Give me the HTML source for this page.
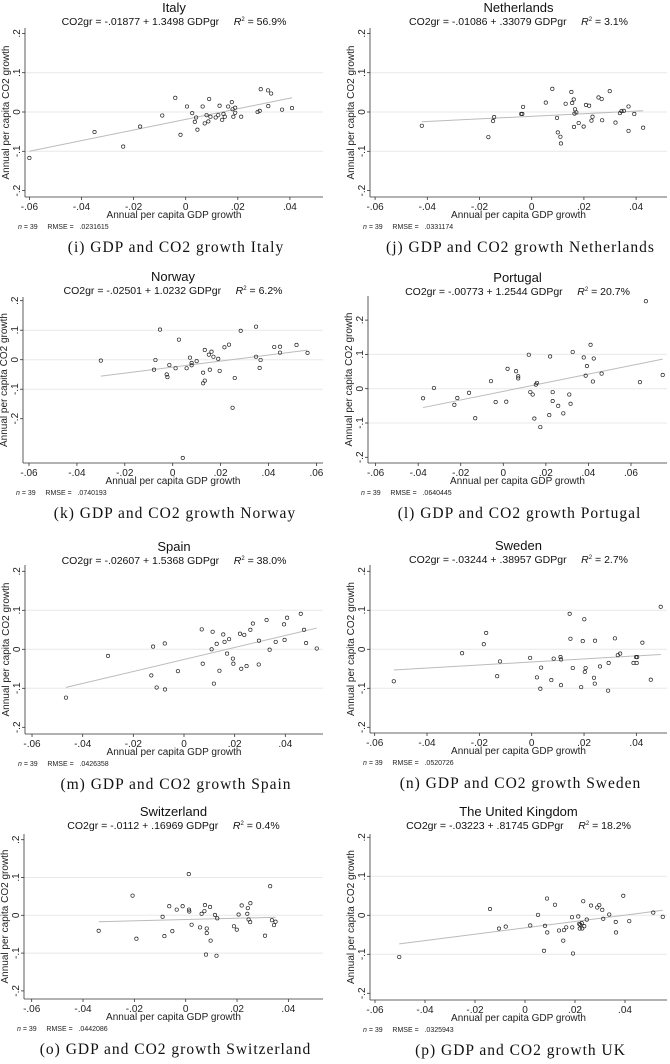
<!DOCTYPE html>
<html><head><meta charset="utf-8"><style>
body{margin:0;background:#fff;}
svg{display:block;font-family:"Liberation Sans",sans-serif;}
svg text{white-space:pre;}
.cap{font-family:"Liberation Serif",serif;font-size:15.5px;letter-spacing:1px;fill:#111;}
</style></head><body>
<svg id="fig" width="670" height="1064" viewBox="0 0 670 1064"></svg>
<script>
// ---- data (x = GDP growth, y = CO2 growth) ----
const countries = ["Italy","Netherlands","Norway","Portugal","Spain","Sweden","Switzerland","The United Kingdom"];
const captions = ["(i) GDP and CO2 growth Italy","(j) GDP and CO2 growth Netherlands","(k) GDP and CO2 growth Norway","(l) GDP and CO2 growth Portugal","(m) GDP and CO2 growth Spain","(n) GDP and CO2 growth Sweden","(o) GDP and CO2 growth Switzerland","(p) GDP and CO2 growth UK"];
const equations = ["CO2gr = -.01877 + 1.3498 GDPgr","CO2gr = -.01086 + .33079 GDPgr","CO2gr = -.02501 + 1.0232 GDPgr","CO2gr = -.00773 + 1.2544 GDPgr","CO2gr = -.02607 + 1.5368 GDPgr","CO2gr = -.03244 + .38957 GDPgr","CO2gr = -.0112 + .16969 GDPgr","CO2gr = -.03223 + .81745 GDPgr"];
const r2Labels = ["56.9%","3.1%","6.2%","20.7%","38.0%","2.7%","0.4%","18.2%"];
const rmseLabels = [".0231615",".0331174",".0740193",".0640445",".0426358",".0520726",".0442086",".0325943"];
const intercepts = [-.01877,-.01086,-.02501,-.00773,-.02607,-.03244,-.0112,-.03223];
const slopes = [1.3498,.33079,1.0232,1.2544,1.5368,.38957,.16969,.81745];
const xTicksShort = [-.06,-.04,-.02,0,.02,.04];
const xTickLabelsShort = ["-.06","-.04","-.02","0",".02",".04"];
const xTicksLong = [-.06,-.04,-.02,0,.02,.04,.06];
const xTickLabelsLong = ["-.06","-.04","-.02","0",".02",".04",".06"];
const yTicks = [.2,.1,0,-.1,-.2];
const yTickLabels = [".2",".1","0","-.1","-.2"];
const gridTicks = [.1,0,-.1];

const italyX = [-.06,-.035,-.024,-.0175,-.009,-.004,-.002,.0005,.0025,.0035,.004,.0045,.0065,.0073,.008,.0087,.009,.0095,.0115,.0125,.013,.014,.0145,.015,.0163,.0177,.018,.0183,.019,.019,.0213,.0276,.0284,.0288,.0316,.0317,.0328,.037,.0408];
const italyY = [-.117,-.051,-.088,-.037,-.009,.036,-.058,.014,-.003,-.025,-.014,-.045,.014,-.029,-.008,-.024,.033,-.012,-.014,-.008,.016,-.02,-.005,-.012,.014,.025,.007,-.012,.011,-.002,-.012,0,.003,.058,.055,.015,.047,.006,.01];
const nethX = [-.0421,-.0166,-.0148,-.0144,-.004,-.0036,-.0033,.0054,.0079,.0097,.01,.011,.0112,.013,.0152,.0155,.0161,.0162,.0164,.0166,.0171,.018,.0199,.0208,.022,.0229,.0233,.0256,.0268,.027,.0299,.0321,.0338,.0344,.0353,.0371,.0371,.0393,.0427];
const nethY = [-.035,-.064,-.023,-.013,-.005,-.005,.013,.024,.059,-.015,-.052,-.063,-.08,.021,.051,.023,.032,-.038,-.004,.007,-.001,-.028,-.037,.018,.016,-.022,-.012,.037,.033,-.021,.053,-.027,-.003,.002,.003,.014,-.048,-.005,-.04];
const norX = [-.03,-.0072,-.0078,-.0053,-.0025,-.0022,-.0014,.0012,.0026,.0058,.0072,.0079,.0079,.01,.0127,.0127,.0134,.0134,.0151,.0155,.0162,.017,.019,.0196,.0216,.0235,.025,.0259,.0284,.0348,.0348,.0363,.0367,.0424,.0448,.0448,.0517,.0563,.0042];
const norY = [-.003,-.001,-.034,.102,-.05,-.059,-.018,-.029,.068,-.029,.007,-.011,-.019,-.005,-.044,-.08,.033,-.071,.017,-.034,.027,.01,.003,-.038,.042,.051,-.163,-.062,.098,.112,.01,-.028,-.001,.043,.044,.024,.05,.023,-.333];
const porX = [-.0377,-.0326,-.023,-.0216,-.0161,-.0132,-.0058,-.0036,.0014,.002,.006,.007,.007,.012,.0127,.0138,.0146,.0153,.0158,.0174,.0216,.022,.0232,.0232,.0258,.0282,.031,.0316,.0326,.0378,.0387,.0393,.041,.0421,.0425,.0462,.0642,.067,.0749];
const porY = [-.028,.002,-.047,-.027,-.012,-.086,.022,-.039,-.038,.058,.051,.03,.036,.099,-.01,-.017,-.087,.012,.017,-.112,-.077,.094,-.01,-.036,-.05,-.072,-.017,-.044,.107,.091,.038,.066,.128,.021,.088,.044,.019,.255,.04];
const spaX = [-.0466,-.03,-.0129,-.0122,-.0108,-.0076,-.0075,-.0024,.007,.0074,.0109,.0113,.0118,.0129,.014,.0155,.016,.017,.0178,.0193,.0195,.0221,.0226,.0238,.0247,.0262,.0272,.0296,.0295,.0326,.0338,.0362,.0395,.0397,.0407,.0461,.0474,.0482,.0524];
const spaY = [-.124,-.017,-.067,.007,-.098,.015,-.103,-.056,.051,-.037,0,.045,-.088,.014,-.055,.038,.019,-.011,.026,-.024,-.037,.04,-.05,.037,-.043,.05,.066,.022,-.039,.075,-.001,.019,.064,.024,.081,.091,.05,.016,.002];
const sweX = [-.0527,-.0266,-.0183,-.0174,-.0132,-.0121,-.0006,.002,.0033,.0036,.0075,.0084,.011,.0112,.0112,.0145,.0157,.0148,.0189,.0195,.0201,.0203,.0206,.0238,.0241,.0242,.0261,.0292,.0294,.0318,.0329,.0338,.0389,.0399,.0403,.0401,.0423,.0455,.0493];
const sweY = [-.082,-.01,.013,.042,-.069,-.031,-.022,-.072,-.101,-.047,-.079,-.024,-.02,-.026,-.092,.091,-.048,.027,-.097,.021,.077,-.058,-.048,-.073,-.088,.022,-.044,-.106,-.035,.028,-.015,-.011,-.035,-.02,-.02,-.035,.017,-.078,.109];
const swiX = [-.0339,-.0207,-.0192,-.009,-.0083,-.0064,-.0052,-.0035,-.0012,.0013,.0014,.0023,.0056,.0062,.0073,.0075,.0082,.0082,.0079,.0012,.0095,.0097,.0114,.012,.0123,.0188,.0199,.0206,.0218,.024,.0242,.0245,.0251,.0252,.0309,.0329,.0336,.0344,.035];
const swiY = [-.041,.052,-.062,-.004,-.055,.024,-.042,.015,.024,.015,.01,-.025,-.032,.004,.011,.027,-.035,-.047,-.104,.109,.022,-.067,.001,-.107,-.008,-.029,-.038,.002,.026,.004,.019,-.011,-.018,.032,-.054,.077,-.013,-.026,-.017];
const ukX = [-.0503,-.014,-.0104,-.0077,.0021,.0052,.008,.0088,.0089,.0076,.012,.0136,.0153,.0156,.0165,.0188,.0189,.0192,.0213,.0217,.0219,.0221,.0227,.0229,.0233,.0237,.0247,.0264,.0289,.0297,.0309,.0313,.0337,.0363,.0364,.0393,.0417,.0513,.0551];
const ukY = [-.107,.016,-.034,-.029,-.026,.001,-.027,.043,-.044,-.091,.027,-.039,-.065,-.038,-.031,-.005,-.031,-.098,-.003,-.022,-.034,-.024,-.02,-.034,.036,-.028,-.011,.025,.02,.026,.014,-.009,.002,-.017,-.044,.05,-.015,.007,-.004];
const seriesX = [italyX,nethX,norX,porX,spaX,sweX,swiX,ukX];
const seriesY = [italyY,nethY,norY,porY,spaY,sweY,swiY,ukY];

// ---- layout (pixels) ----
const layouts = [
 {x0:185.7,xs:2605,y0:112,ys:393,left:25,right:323,top:28,bottom:197,title:7,long:false},
 {x0:531.7,xs:2610,y0:112,ys:393,left:370,right:667,top:28,bottom:197,title:7,long:false},
 {x0:172.7,xs:2395,y0:359.7,ys:295,left:23,right:323,top:297,bottom:463,title:276,long:true},
 {x0:503.3,xs:2128,y0:388.7,ys:343,left:368,right:667,top:296,bottom:463,title:277,long:true},
 {x0:184,xs:2533,y0:649.3,ys:390,left:25,right:323,top:565,bottom:734,title:546,long:false},
 {x0:531.7,xs:2617,y0:649.3,ys:390,left:370,right:667,top:565,bottom:733,title:545,long:false},
 {x0:185.7,xs:2567,y0:915.3,ys:378,left:24,right:323,top:834,bottom:999,title:811,long:false},
 {x0:525,xs:2500,y0:915.3,ys:390,left:370,right:667,top:834,bottom:1000,title:811,long:false}
];
const NS="http://www.w3.org/2000/svg";
const svg=document.getElementById('fig');
function mk(tag,attrs,parent,text){const e=document.createElementNS(NS,tag);for(const k in attrs)e.setAttribute(k,attrs[k]);if(text!==undefined)e.textContent=text;(parent||svg).appendChild(e);return e;}

countries.forEach((name,i)=>{
  const L=layouts[i];
  const sx=v=>L.x0+v*L.xs, sy=v=>L.y0-v*L.ys;
  const g=mk('g',{});
  
  
  const cx=(L.left+L.right)/2;
  const t=mk('text',{x:cx,y:L.title+5,'text-anchor':'middle','font-size':13,fill:'#111'},g,name);
  
  
  const eq=mk('text',{x:cx,y:L.title+18,'text-anchor':'middle','font-size':10.5,fill:'#111'},g);
  
  
  eq.appendChild(document.createTextNode(equations[i]+'     '));
  mk('tspan',{'font-style':'italic'},eq,'R');
  mk('tspan',{dy:-4,'font-size':6},eq,'2');
  mk('tspan',{dy:4},eq,' = '+r2Labels[i]);
  gridTicks.forEach(v=>{
    const gl=mk('line',{x1:L.left,x2:L.right,y1:sy(v),y2:sy(v),stroke:'#e8e8e8','stroke-width':1},g);
    
    
  });
  const ya=mk('line',{x1:L.left,x2:L.left,y1:L.top,y2:L.bottom,stroke:'#333','stroke-width':0.8},g);
  
  
  const xa=mk('line',{x1:L.left,x2:L.right,y1:L.bottom,y2:L.bottom,stroke:'#333','stroke-width':0.8},g);
  
  
  const xt=L.long?xTicksLong:xTicksShort, xl=L.long?xTickLabelsLong:xTickLabelsShort;
  xt.forEach((v,k)=>{
    mk('line',{x1:sx(v),x2:sx(v),y1:L.bottom,y2:L.bottom+3,stroke:'#333','stroke-width':0.8},g);
    const tl=mk('text',{x:sx(v),y:L.bottom+13,'text-anchor':'middle','font-size':10,fill:'#222'},g,xl[k]);
    
    
  });
  yTicks.forEach((v,k)=>{
    mk('line',{x1:L.left-3,x2:L.left,y1:sy(v),y2:sy(v),stroke:'#333','stroke-width':0.8},g);
    const tx=L.left-5;
    const tl=mk('text',{x:tx,y:sy(v),'text-anchor':'middle','font-size':10,fill:'#222',transform:`rotate(-90 ${tx} ${sy(v)})`},g,yTickLabels[k]);
    
    
  });
  const xtt=mk('text',{x:(L.left+L.right)/2,y:L.bottom+21,'text-anchor':'middle','font-size':10,fill:'#222'},g,'Annual per capita GDP growth');
  
  
  const yx=L.left-16, ymid=(L.top+L.bottom)/2;
  const ytt=mk('text',{x:yx,y:ymid,'text-anchor':'middle','font-size':10,fill:'#222',transform:`rotate(-90 ${yx} ${ymid})`},g,'Annual per capita CO2 growth');
  
  
  const note=mk('text',{x:L.left-7,y:L.bottom+32,'font-size':7,fill:'#222'},g);
  
  
  mk('tspan',{'font-style':'italic'},note,'n');
  mk('tspan',{},note,' = 39     RMSE =   '+rmseLabels[i]);
  const xs=seriesX[i], ys=seriesY[i];
  const xmin=Math.min(...xs), xmax=Math.max(...xs);
  const fl=mk('line',{x1:sx(xmin),y1:sy(intercepts[i]+slopes[i]*xmin),x2:sx(xmax),y2:sy(intercepts[i]+slopes[i]*xmax),stroke:'#bbb','stroke-width':1},g);
  
  
  xs.forEach((v,k)=>{
    const c=mk('circle',{cx:sx(v),cy:sy(ys[k]),r:1.7,fill:'none',stroke:'#222','stroke-width':0.7},g);
    
    
  });
  const cap=mk('text',{x:cx+2,y:L.bottom+55,'text-anchor':'middle',class:'cap'},g,captions[i]);
  
  
});
</script>
</body></html>
